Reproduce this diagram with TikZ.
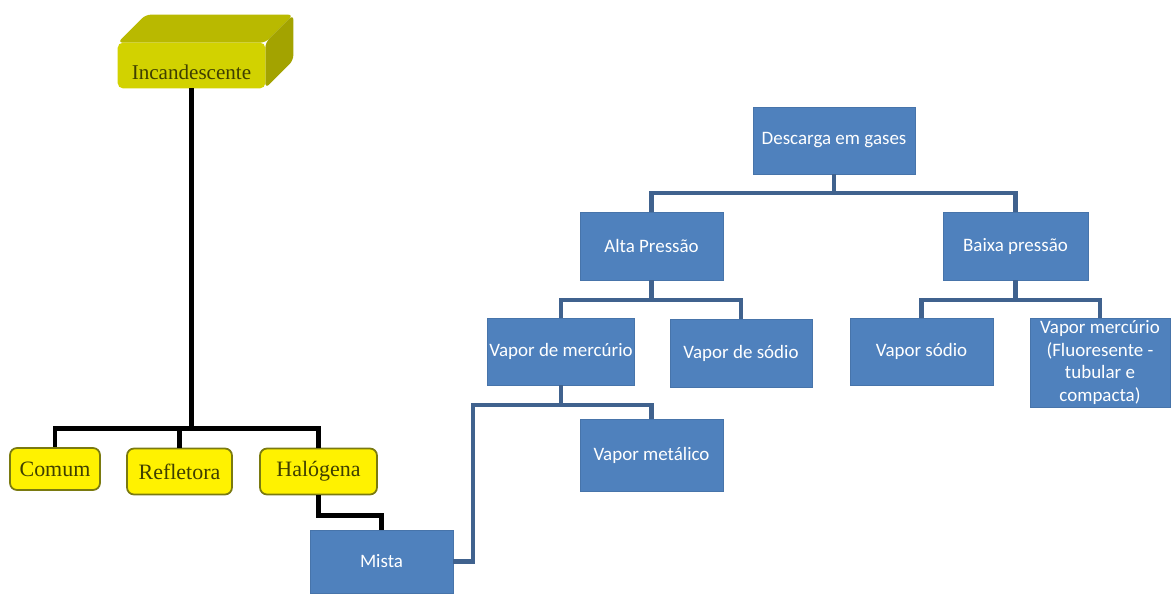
\documentclass[tikz,border=0pt]{standalone}
\usepackage{fontspec}
\setmainfont{Liberation Serif}
\newfontfamily\boxfont{Carlito}
\definecolor{officeblue}{HTML}{4F81BD}
\definecolor{linkblue}{HTML}{40628E}
\definecolor{incfront}{HTML}{D2D200}
\definecolor{inctop}{HTML}{B9B900}
\definecolor{incside}{HTML}{A3A300}
\definecolor{olivetext}{HTML}{3F3F00}
\definecolor{oliveedge}{HTML}{7A7A10}
\tikzset{
  bluebox/.style={fill=officeblue, draw=officeblue!90!black, text=white, align=center,
    font=\boxfont\fontsize{10.8}{12.8}\selectfont, inner sep=1pt},
  yellowbox/.style={fill=yellow, draw=oliveedge, line width=1pt, rounded corners=4pt,
    text=olivetext, font=\fontsize{12.5}{14}\selectfont, minimum height=0.92cm},
  blueline/.style={draw=linkblue, line width=2.4pt},
  blackline/.style={draw=black, line width=2.7pt}
}
\begin{document}
\begin{tikzpicture}[x=0.02cm, y=-0.02cm]
\useasboundingbox (0,0) rectangle (1171,593);

% Incandescente (caixa 3D)
\path (191.5,65.5) node[minimum width=2.94cm, minimum height=0.9cm, inner sep=0pt] (inc) {};
\fill[inctop, rounded corners=3pt] (inc.north west) -- ([shift={(28,-28)}]inc.north west)
  -- ([shift={(28,-28)}]inc.north east) -- (inc.north east) -- cycle;
\fill[incside, rounded corners=3pt] (inc.north east) -- ([shift={(28,-28)}]inc.north east)
  -- ([shift={(28,-28)}]inc.south east) -- (inc.south east) -- cycle;
\fill[incfront, rounded corners=3pt] (inc.north west) rectangle (inc.south east);
\node[text=olivetext, font=\fontsize{12}{14}\selectfont] (inclabel) at (191.5,72) {Incandescente};

% caixas amarelas
\node[yellowbox, minimum width=1.8cm, minimum height=0.84cm] (comum) at (55,469) {Comum};
\node[yellowbox, minimum width=2.1cm] (refl) at (179.5,471.5) {Refletora};
\node[yellowbox, minimum width=2.34cm] (halo) at (318.5,471.5) {Halógena};

% caixas azuis
\node[bluebox, minimum width=3.24cm, minimum height=1.34cm] (desc) at (834,140.5) {Descarga em gases};
\node[bluebox, minimum width=2.86cm, minimum height=1.36cm] (alta) at (651.5,246) {Alta Pressão};
\node[bluebox, minimum width=2.9cm, minimum height=1.36cm] (baixa) at (1015.5,246) {Baixa pressão};
\node[bluebox, minimum width=2.88cm, minimum height=1.34cm] (vmerc) at (561,351.5) {Vapor de mercúrio};
\node[bluebox, minimum width=2.84cm, minimum height=1.36cm] (vsod) at (741,353) {Vapor de sódio};
\node[bluebox, minimum width=2.86cm, minimum height=1.34cm] (vsodb) at (921.5,351.5) {Vapor sódio};
\node[bluebox, minimum width=2.8cm, minimum height=1.78cm, inner sep=0pt] (vmercb) at (1100,362.5)
  {Vapor mercúrio\\(Fluoresente -\\tubular e\\compacta)};
\node[bluebox, minimum width=2.86cm, minimum height=1.44cm] (vmet) at (651.5,455) {Vapor metálico};
\node[bluebox, minimum width=2.86cm, minimum height=1.26cm] (mista) at (381.5,561.5) {Mista};

% ligacoes pretas
\path (inc.south |- comum.north) ++(0,-19) coordinate (incj);
\draw[blackline] (inc.south) -- (incj) -| (comum.north);
\draw[blackline] (incj) -| (refl.north);
\draw[blackline] (incj) -| (halo.north);
\draw[blackline] (halo.south) -- ++(0,20) -| (mista.north);

% ligacoes azuis
\draw[blueline] (desc.south) -- ++(0,19) -| (alta.north);
\draw[blueline] (desc.south) ++(0,19) -| (baixa.north);
\draw[blueline] (alta.south) -- ++(0,20) -| (vmerc.north);
\draw[blueline] (alta.south) ++(0,20) -| (vsod.north);
\draw[blueline] (baixa.south) -- ++(0,20) -| (vsodb.north);
\draw[blueline] (baixa.south) ++(0,20) -| (vmercb.north);
\path (vmerc.south) ++(0,20) coordinate (vmj);
\draw[blueline] (vmerc.south) -- (vmj) -| (vmet.north);
\draw[blueline] (mista.east) -- ++(20,0) |- (vmj);
\end{tikzpicture}
\end{document}
